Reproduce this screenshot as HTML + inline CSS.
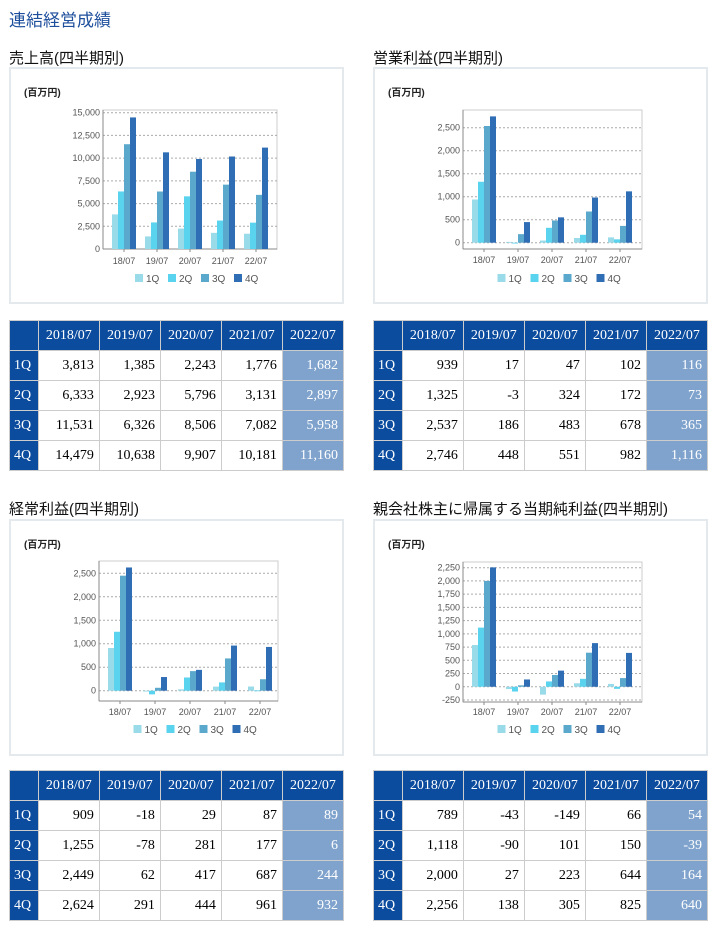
<!DOCTYPE html>
<html><head><meta charset="utf-8">
<style>
body{margin:0;background:#fff;width:720px;height:931px;position:relative;overflow:hidden;font-family:"Liberation Sans","Noto Sans CJK JP",sans-serif}
.abs{position:absolute}
.h1{left:9px;top:6px;font-size:17px;color:#1e4f9c}
.h2{font-size:15px;color:#111}
.panel{border:2px solid #e4e9ee;box-sizing:border-box;background:#fff}
table{position:absolute;border-collapse:collapse;font-family:"Liberation Serif","Noto Serif CJK SC",serif;font-size:14px}
td{border:1px solid #ccc;height:29px;padding:0 5px;text-align:right;width:51px}
th{background:#0b4c9e;color:#fff;font-weight:normal;border:1px solid #ccc;height:29px;padding:0}
td.q{background:#0b4c9e;color:#fff;text-align:left;width:18px;padding:0 4px}
td.last{background:#7fa3cc;color:#fff}
</style></head><body>
<div class="abs h1">連結経営成績</div>
<div class="abs h2" style="left:9px;top:47px">売上高(四半期別)</div>
<div class="abs h2" style="left:373px;top:47px">営業利益(四半期別)</div>
<div class="abs h2" style="left:9px;top:498px">経常利益(四半期別)</div>
<div class="abs h2" style="left:373px;top:498px">親会社株主に帰属する当期純利益(四半期別)</div>
<div class="abs panel" style="left:9px;top:67px;width:335px;height:237px"></div>
<div class="abs panel" style="left:373px;top:67px;width:335px;height:237px"></div>
<div class="abs panel" style="left:9px;top:519px;width:335px;height:237px"></div>
<div class="abs panel" style="left:373px;top:519px;width:335px;height:237px"></div>
<svg id="svg" class="abs" style="left:0;top:0" width="720" height="931"></svg>
<div id="tables"></div>
<script>
const years=["2018/07","2019/07","2020/07","2021/07","2022/07"];
const cats=["18/07","19/07","20/07","21/07","22/07"];
const quarters=["1Q","2Q","3Q","4Q"];
const sales=[[3813,1385,2243,1776,1682],[6333,2923,5796,3131,2897],[11531,6326,8506,7082,5958],[14479,10638,9907,10181,11160]];
const opIncome=[[939,17,47,102,116],[1325,-3,324,172,73],[2537,186,483,678,365],[2746,448,551,982,1116]];
const ordIncome=[[909,-18,29,87,89],[1255,-78,281,177,6],[2449,62,417,687,244],[2624,291,444,961,932]];
const netIncome=[[789,-43,-149,66,54],[1118,-90,101,150,-39],[2000,27,223,644,164],[2256,138,305,825,640]];
const salesTicks=[0,2500,5000,7500,10000,12500,15000];
const opTicks=[0,500,1000,1500,2000,2500];
const ordTicks=[0,500,1000,1500,2000,2500];
const netTicks=[-250,0,250,500,750,1000,1250,1500,1750,2000,2250];
const colors=["#9adbea","#5ad3ee","#5aa8cc","#2f6db5"];
const NS="http://www.w3.org/2000/svg";
const svg=document.getElementById('svg');
function mk(t,a,p){const e=document.createElementNS(NS,t);for(const k in a)e.setAttribute(k,a[k]);(p||svg).appendChild(e);return e;}
function fmt(v){return v.toLocaleString('en-US');}
function chart(name,data,ticks,c){
  const g=mk('g',{});
  
  
  const t0=ticks[0],t1=ticks[ticks.length-1];
  const y=v=>c.yb-(v-t0)/(t1-t0)*(c.yb-c.yt);
  const x=i=>c.cx0+i*c.step;
  const u=mk('text',{x:c.ux,y:c.uy,'font-size':10,'font-weight':'bold',fill:'#222'},g);u.textContent='(百万円)';
  
  
  mk('rect',{x:c.fx0,y:c.fy0,width:c.fx1-c.fx0,height:c.fy1-c.fy0,fill:'none',stroke:'#ccc'},g);
  ticks.forEach(tv=>{
    const yy=y(tv);
    mk('line',{x1:c.fx0,x2:c.fx1,y1:yy,y2:yy,stroke:'#aaa','stroke-dasharray':'2,2'},g);
    const tl=mk('text',{x:c.fx0-3,y:yy+3,'font-size':9,fill:'#555','text-anchor':'end'},g);tl.textContent=fmt(tv);
    
    
  });
  mk('line',{x1:c.fx0,x2:c.fx0,y1:c.fy0,y2:c.fy1,stroke:'#888'},g);
  mk('line',{x1:c.fx0,x2:c.fx1,y1:c.fy1,y2:c.fy1,stroke:'#888'},g);
  cats.forEach((cat,i)=>{
    const cl=mk('text',{x:x(i),y:c.ly,'font-size':9,fill:'#555','text-anchor':'middle'},g);cl.textContent=cat;
    
    
    mk('line',{x1:x(i),x2:x(i),y1:c.fy1,y2:c.fy1+3,stroke:'#888'},g);
    data.forEach((s,q)=>{
      const v=s[i],y0=y(0),yv=y(v);
      const r=mk('rect',{x:x(i)-12+q*6,y:Math.min(y0,yv),width:6,height:Math.max(0.8,Math.abs(y0-yv)),fill:colors[q]},g);
      
      
    });
  });
  const lx=(c.fx0+c.fx1)/2-55;
  quarters.forEach((q,i)=>{
    const le=mk('g',{},g);
    
    
    mk('rect',{x:lx+i*33,y:c.legy-7,width:8,height:8,fill:colors[i]},le);
    const lt=mk('text',{x:lx+i*33+11,y:c.legy+1,'font-size':10,fill:'#555'},le);lt.textContent=q;
  });
}
chart('sales',sales,salesTicks,{ux:24,uy:96,fx0:103,fx1:277,fy0:110,fy1:249,yb:249,yt:112.7,cx0:124,step:33,ly:264,legy:281});
chart('op-income',opIncome,opTicks,{ux:388,uy:96,fx0:463,fx1:642,fy0:110,fy1:249,yb:242.7,yt:127.7,cx0:484,step:34,ly:263,legy:281});
chart('ordinary-income',ordIncome,ordTicks,{ux:24,uy:548,fx0:99,fx1:278,fy0:561,fy1:701,yb:690.7,yt:573.3,cx0:120,step:35,ly:715,legy:732});
chart('net-income',netIncome,netTicks,{ux:388,uy:548,fx0:463,fx1:642,fy0:562,fy1:702,yb:700,yt:567.7,cx0:484,step:34,ly:715,legy:732});

function table(name,data,left,top){
  const t=document.createElement('table');
  
  
  t.style.left=left+'px';t.style.top=top+'px';t.style.width='335px';
  let h='<tr><th style="width:28px"></th>'+years.map(y=>'<th>'+y+'</th>').join('')+'</tr>';
  data.forEach((s,q)=>{
    h+='<tr><td class="q">'+quarters[q]+'</td>'+s.map((v,i)=>'<td'+(i==4?' class="last"':'')+'>'+fmt(v)+'</td>').join('')+'</tr>';
  });
  t.innerHTML=h;
  document.getElementById('tables').appendChild(t);
}
table('sales',sales,9,320);
table('op-income',opIncome,373,320);
table('ordinary-income',ordIncome,9,770);
table('net-income',netIncome,373,770);
</script>
</body></html>
